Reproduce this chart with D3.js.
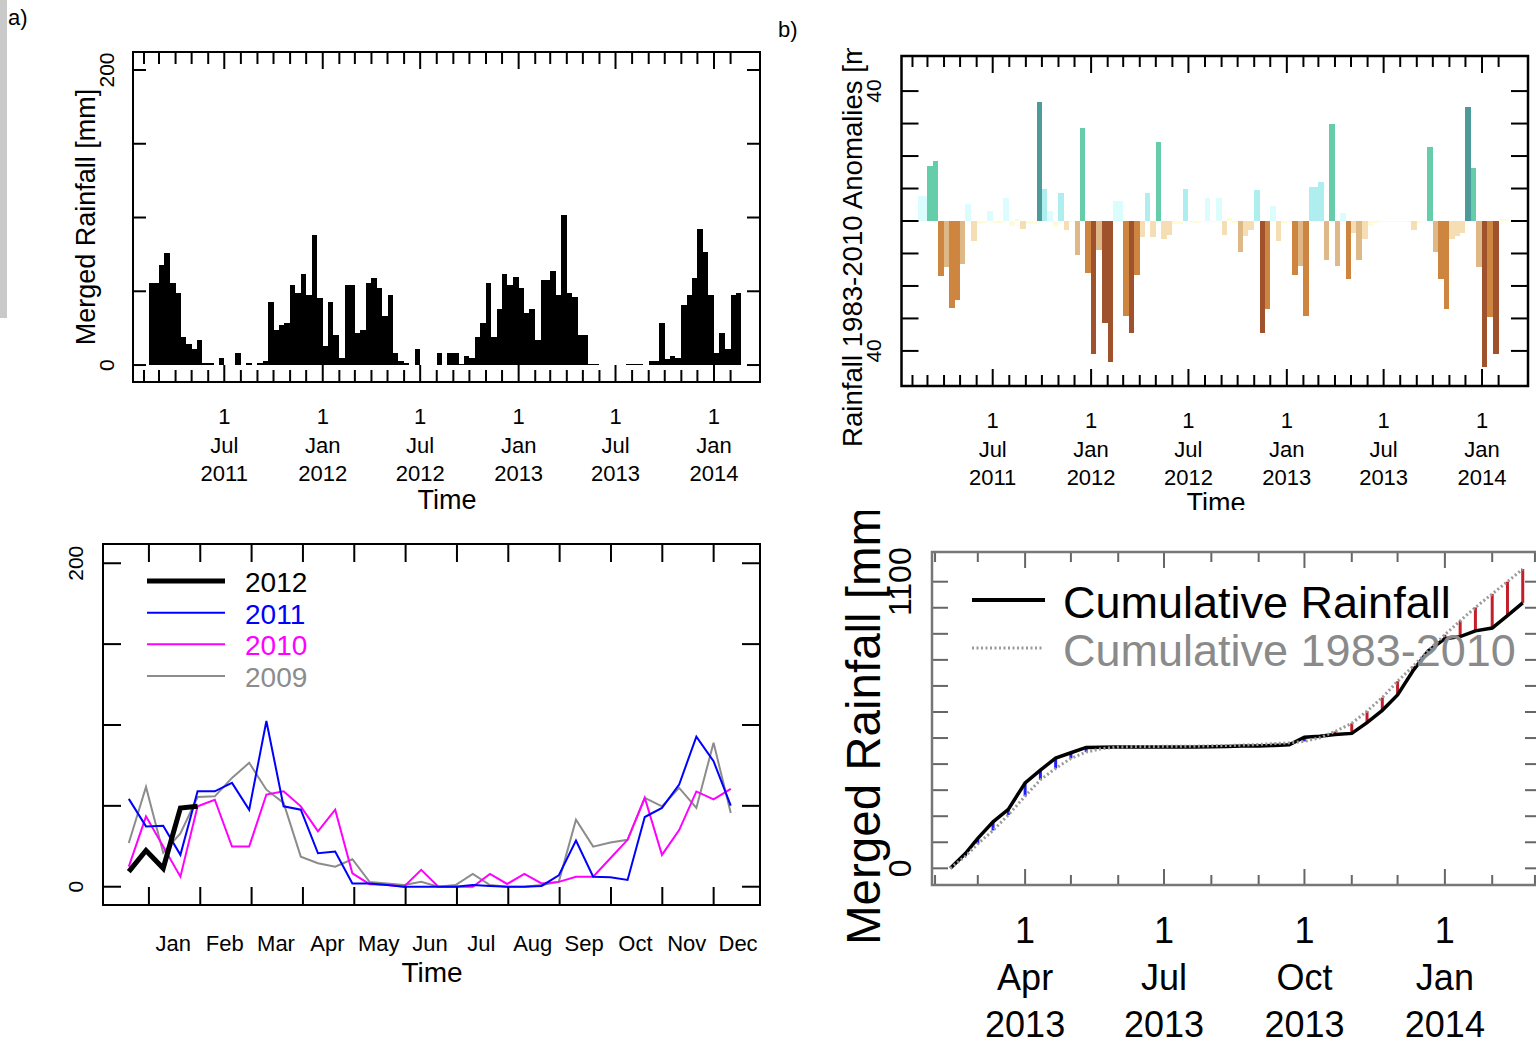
<!DOCTYPE html>
<html>
<head>
<meta charset="utf-8">
<script src="https://cdn.jsdelivr.net/npm/d3@7"></script>
<style>
  body { margin: 0; background: #fff; }
  svg { display: block; }
  text { font-family: "Liberation Sans", Arial, Helvetica, sans-serif; }
</style>
</head>
<body>
<svg id="fig" width="1536" height="1042"></svg>
<script>
// ---- Dekadal merged rainfall [mm], one value per dekad starting 1 Feb 2011 ----
const firstDekad = [2011, 1];   // year, month index of dekad 0
const mergedRain = [
  0, 55.6, 55.6, 68, 76, 55.6, 49, 19, 14, 11,
  17, 1.5, 1.5, 0, 4.5, 0, 0, 8, 0, 1.6,
  0, 1.6, 2.7, 43, 23.6, 27, 28.6, 54, 49, 62,
  47.5, 88, 45.7, 12.8, 43, 20.5, 4.5, 54, 54, 22,
  23.6, 55.6, 58.8, 52.5, 33, 47.5, 8, 3, 1.1, 0,
  11, 0, 0, 0, 8, 0, 8, 8, 1, 6,
  4.5, 19, 28.6, 55.6, 19, 38, 62, 54, 60, 52.5,
  35, 38, 17, 57.4, 57.4, 63.7, 47.5, 102, 49, 46,
  20.5, 20.5, 1, 1, 0, 0, 0, 0, 0, 1,
  1, 1, 0, 2.7, 2.7, 28.6, 4.3, 6, 4.5, 41,
  47.5, 58.8, 92, 76.6, 47.5, 8, 22, 11, 47.5, 49
];

// ---- Dekadal anomalies against the 1983-2010 mean [mm], same dekads ----
const rainAnomaly = [
  0, 7.7, 7.7, 17, 18.5, -16.9, -14.2, -26.7, -24.3, -13.2,
  5.2, -6.2, -0.8, -0.6, 3.2, -0.5, -0.5, 7, -1.5, 0.6,
  -2.6, -1, -1, 36.7, 9.8, 3.2, -2, 8.5, -2.8, -0.3,
  -10.5, 28.7, -16.1, -41, -9, -31.5, -43.5, 6.1, 6.1, -29.4,
  -34.4, -16.7, -4.8, 8.5, -4.8, 24.4, -5.5, -4.3, -1, -1,
  9.8, -0.4, -0.5, -0.4, 7, -0.3, 7, -4.3, 1, -0.5,
  -9.4, -4.7, -2.8, 9.5, -34.6, -27, 4.5, -6.2, -0.5, -0.3,
  -16.7, -14, -29.4, 10.5, 10.5, 12.1, -12, 30, -14, 2.5,
  -18, -3.7, -12, -5.6, -1.5, -0.5, -0.4, -0.3, -0.3, -0.3,
  -0.3, -0.4, -2.7, -0.5, -0.3, 22.9, -9.5, -18, -27, -5.6,
  -4.6, -3.7, 35.2, 16.2, -14.2, -45, -29.5, -41, 0.5, 0.5
];

// ---- Seasonal comparison: 36 dekads per year, Jan..Dec ----
const monthNames = ["Jan","Feb","Mar","Apr","May","Jun","Jul","Aug","Sep","Oct","Nov","Dec"];
const yearLabels = ["2012", "2011", "2010", "2009"];
const rain2012 = [9.3, 22.4, 11.4, 48.7, 49.7];
const rain2011 = [54.3, 37.3, 37.7, 19.7, 59, 59, 64.2, 47.6, 102.5, 49.7, 47.6, 20.7,
                  21.7, 2, 2, 1, 0, 0, 0, 0, 1, 0.5, 0, 0,
                  0.5, 7, 28.6, 6.2, 5.8, 4.2, 43.1, 48.7, 63.2, 92.8, 77.6, 50.1];
const rain2010 = [12.4, 43.5, 24.8, 6.2, 49.7, 53.8, 24.8, 24.8, 57, 59, 49.7, 34.2,
                  47.6, 8.3, 1.6, 1.2, 0, 10.4, 0, 0, 0, 7.9, 1.7, 7.9,
                  2, 3, 6.2, 6.2, 17.6, 29, 55, 19.7, 35, 58.9, 54, 60.5];
const rain2009 = [27, 61.7, 21, 33, 55.5, 55.9, 67.3, 76.6, 60, 51.8, 18.6, 14.5,
                  12.4, 17, 3, 2, 1, 3, 0, 1, 7.9, 1, 0, 0,
                  1, 3, 41.4, 24.8, 27.3, 29, 54.9, 49.7, 61.1, 48.7, 89, 45.6];

// ---- Cumulative season start ----
const seasonStart = new Date(2013, 1, 11);

// ------------------------------------------------------------------
const svg = d3.select("#fig");
const defs = svg.append("defs");

function dekadDate(k) {
  const m = Math.floor(k / 3);
  return new Date(firstDekad[0], firstDekad[1] + m, [1, 11, 21][k % 3]);
}
const dekads = mergedRain.map((r, k) => ({
  k, start: dekadDate(k), end: dekadDate(k + 1), rain: r, anom: rainAnomaly[k]
}));

function frame(g, x0, y0, x1, y1, color, w) {
  g.append("rect").attr("x", x0).attr("y", y0).attr("width", x1 - x0).attr("height", y1 - y0)
    .attr("fill", "none").attr("stroke", color).attr("stroke-width", w);
}
function seg(g, x1, y1, x2, y2, color, w) {
  g.append("line").attr("x1", x1).attr("y1", y1).attr("x2", x2).attr("y2", y2)
    .attr("stroke", color).attr("stroke-width", w);
}
function rotLabel(g, x, y, s, size, anchor) {
  g.append("text").attr("transform", `translate(${x},${y}) rotate(-90)`)
    .attr("text-anchor", anchor || "middle").attr("dominant-baseline", "central")
    .attr("font-size", size).attr("fill", "#000").text(s);
}
const monthShort = d3.timeFormat("%b");

// left edge strip
svg.append("rect").attr("x", 0).attr("y", 0).attr("width", 7).attr("height", 318).attr("fill", "#c9c9c9");

// ===================== a) dekadal rainfall bars =====================
const gA = svg.append("g");
gA.append("text").attr("x", 8).attr("y", 25).attr("font-size", 22).text("a)");
const A = { l: 133, r: 760, t: 52, b: 382 };
const xA = d3.scaleTime().domain([new Date(2011, 0, 11, 11), new Date(2014, 2, 27, 23)]).range([A.l, A.r]);
const yA = d3.scaleLinear().domain([-11.5, 212.2]).range([A.b, A.t]);

gA.selectAll("rect.bar").data(dekads.filter(d => d.rain > 0)).join("rect")
  .attr("class", "bar")
  .attr("x", d => xA(d.start)).attr("width", d => xA(d.end) - xA(d.start))
  .attr("y", d => yA(d.rain)).attr("height", d => yA(0) - yA(d.rain))
  .attr("fill", "#000").attr("shape-rendering", "crispEdges");

const monthTicksA = d3.timeMonth.range(new Date(2011, 1, 1), new Date(2014, 1, 2));
const isMajor = d => d.getMonth() === 0 || d.getMonth() === 6;

function timeAxis(g, x, box, minor, major, labelY, size, lineGap) {
  monthTicksA.forEach(m => {
    const len = isMajor(m) ? major : minor;
    const xx = x(m);
    seg(g, xx, box.b, xx, box.b - len, "#000", 2);
    seg(g, xx, box.t, xx, box.t + len, "#000", 2);
    if (isMajor(m)) {
      const t = g.append("text").attr("text-anchor", "middle").attr("font-size", size);
      t.append("tspan").attr("x", xx).attr("y", labelY).text("1");
      t.append("tspan").attr("x", xx).attr("y", labelY + lineGap).text(monthShort(m));
      t.append("tspan").attr("x", xx).attr("y", labelY + 2 * lineGap).text(m.getFullYear());
    }
  });
}
timeAxis(gA, xA, A, 12, 17, 424, 22, 28.5);
[0, 50, 100, 150, 200].forEach(v => {
  seg(gA, A.l, yA(v), A.l + 13, yA(v), "#000", 2);
  seg(gA, A.r, yA(v), A.r - 13, yA(v), "#000", 2);
});
frame(gA, A.l, A.t, A.r, A.b, "#000", 2);
rotLabel(gA, 106, yA(0), "0", 21);
rotLabel(gA, 106, yA(200), "200", 21);
gA.append("text").attr("transform", `translate(95,217) rotate(-90)`).attr("text-anchor", "middle")
  .attr("font-size", 27).text("Merged Rainfall [mm]");
gA.append("text").attr("x", 447).attr("y", 509).attr("text-anchor", "middle").attr("font-size", 27).text("Time");

// ===================== b) anomaly bars =====================
defs.append("clipPath").attr("id", "clipB").append("rect")
  .attr("x", 770).attr("y", 48).attr("width", 766).attr("height", 462);
const gB = svg.append("g").attr("clip-path", "url(#clipB)");
svg.append("text").attr("x", 778).attr("y", 37).attr("font-size", 22).text("b)");
const B = { l: 901.5, r: 1528, t: 56, b: 386 };
const xB = xA.copy().range([B.l, B.r]);
const yB = d3.scaleLinear().domain([-50.8, 50.8]).range([B.b, B.t]);

function anomColor(v) {
  if (v >= 33) return "#4d9a9a";
  if (v >= 15) return "#66cdaa";
  if (v >= 8) return "#aeeeee";
  if (v >= 2.5) return "#dcfdfd";
  if (v > -2.5) return "#fffbd4";
  if (v > -8) return "#f5deb3";
  if (v > -15) return "#deb887";
  if (v > -30) return "#cd853f";
  return "#a0522d";
}
gB.selectAll("rect.anom").data(dekads.filter(d => d.anom !== 0)).join("rect")
  .attr("class", "anom")
  .attr("x", d => xB(d.start)).attr("width", d => xB(d.end) - xB(d.start))
  .attr("y", d => yB(Math.max(0, d.anom))).attr("height", d => Math.abs(yB(d.anom) - yB(0)))
  .attr("fill", d => anomColor(d.anom)).attr("shape-rendering", "crispEdges");

timeAxis(gB, xB, B, 11, 17, 428, 22, 28.5);
d3.range(-40, 41, 10).forEach(v => {
  seg(gB, B.l, yB(v), B.l + 17, yB(v), "#000", 2);
  seg(gB, B.r, yB(v), B.r - 17, yB(v), "#000", 2);
});
frame(gB, B.l, B.t, B.r, B.b, "#000", 2.5);
rotLabel(gB, 873, yB(40), "40", 21);
rotLabel(gB, 873, yB(-40), "40", 21);
gB.append("text").attr("transform", `translate(862,447) rotate(-90)`).attr("text-anchor", "start")
  .attr("font-size", 27.6).text("Rainfall 1983-2010 Anomalies [mm]");
gB.append("text").attr("x", 1216).attr("y", 512).attr("text-anchor", "middle").attr("font-size", 27).text("Time");

// ===================== c) seasonal comparison lines =====================
const gC = svg.append("g");
const C = { l: 103, r: 760, t: 544, b: 905 };
const xC = d3.scaleLinear().domain([-1.5, 36.7]).range([C.l, C.r]);
const yC = d3.scaleLinear().domain([-11.3, 211.9]).range([C.b, C.t]);
const monthTick = i => 1.17 + i * 2.985;

const seriesC = [
  { label: yearLabels[3], values: rain2009, color: "#8c8c8c", w: 2 },
  { label: yearLabels[2], values: rain2010, color: "#ff00ff", w: 2 },
  { label: yearLabels[1], values: rain2011, color: "#0000ff", w: 2 },
  { label: yearLabels[0], values: rain2012, color: "#000000", w: 5 }
];
const lineC = d3.line().x((d, i) => xC(i)).y(d => yC(d));
seriesC.forEach(s => {
  gC.append("path").attr("d", lineC(s.values)).attr("fill", "none")
    .attr("stroke", s.color).attr("stroke-width", s.w).attr("stroke-linejoin", "miter");
});
monthNames.forEach((m, i) => {
  const xx = xC(monthTick(i));
  seg(gC, xx, C.b, xx, C.b - 18, "#000", 2);
  seg(gC, xx, C.t, xx, C.t + 18, "#000", 2);
  gC.append("text").attr("x", xC(monthTick(i) + 1.42)).attr("y", 951).attr("text-anchor", "middle")
    .attr("font-size", 22).text(m);
});
[0, 50, 100, 150, 200].forEach(v => {
  seg(gC, C.l, yC(v), C.l + 18, yC(v), "#000", 2);
  seg(gC, C.r, yC(v), C.r - 18, yC(v), "#000", 2);
});
frame(gC, C.l, C.t, C.r, C.b, "#000", 2);
rotLabel(gC, 75, yC(0), "0", 21);
rotLabel(gC, 75, yC(200), "200", 21);
gC.append("text").attr("x", 432).attr("y", 982).attr("text-anchor", "middle").attr("font-size", 28).text("Time");
// legend
const legC = seriesC.slice().reverse();
const legY = d3.scalePoint().domain(legC.map(s => s.label)).range([581, 676]);
legC.forEach(s => {
  seg(gC, 147, legY(s.label), 225, legY(s.label), s.color, s.w === 5 ? 5 : 2);
  gC.append("text").attr("x", 245).attr("y", legY(s.label) + 11).attr("font-size", 28)
    .attr("fill", s.color).text(s.label);
});

// ===================== d) cumulative rainfall =====================
const gD = svg.append("g");
const D = { l: 932, r: 1538, t: 552, b: 885 };
const xD = d3.scaleTime().domain([new Date(2013, 0, 30), new Date(2014, 2, 3)]).range([D.l, D.r]);
const yD = d3.scaleLinear().domain([-64, 1214]).range([D.b, D.t]);

const season = dekads.filter(d => d.start >= seasonStart);
const cum = [{ date: season[0].start, obs: 0, clim: 0 }];
season.forEach(d => {
  const prev = cum[cum.length - 1];
  cum.push({ date: d.end, obs: prev.obs + d.rain, clim: prev.clim + (d.rain - d.anom) });
});

// surplus / deficit hatching between the two curves
gD.selectAll("line.hatch").data(cum.slice(1)).join("line")
  .attr("class", "hatch")
  .attr("x1", d => xD(d.date)).attr("x2", d => xD(d.date))
  .attr("y1", d => yD(d.obs)).attr("y2", d => yD(d.clim))
  .attr("stroke", d => d.obs > d.clim ? "#1f1fff" : "#c41e2a").attr("stroke-width", 3);

gD.append("path").attr("d", d3.line().x(d => xD(d.date)).y(d => yD(d.obs))(cum))
  .attr("fill", "none").attr("stroke", "#000").attr("stroke-width", 3.5);
gD.append("path").attr("d", d3.line().x(d => xD(d.date)).y(d => yD(d.clim))(cum))
  .attr("fill", "none").attr("stroke", "#9a9a9a").attr("stroke-width", 3).attr("stroke-dasharray", "2 2.5");

const monthsD = d3.timeMonth.range(new Date(2013, 1, 1), new Date(2014, 2, 2));
const quarterMajor = d => d.getMonth() % 3 === 0;
monthsD.forEach(m => {
  const xx = xD(m);
  if (xx <= D.l + 3) return;
  const len = quarterMajor(m) ? 16 : 10;
  seg(gD, xx, D.b, xx, D.b - len, "#666", 2);
  seg(gD, xx, D.t, xx, D.t + len, "#666", 2);
  if (quarterMajor(m)) {
    const t = gD.append("text").attr("text-anchor", "middle").attr("font-size", 36);
    t.append("tspan").attr("x", xx).attr("y", 943).text("1");
    t.append("tspan").attr("x", xx).attr("y", 990).text(monthShort(m));
    t.append("tspan").attr("x", xx).attr("y", 1037).text(m.getFullYear());
  }
});
d3.range(0, 1101, 100).forEach(v => {
  seg(gD, D.l, yD(v), D.l + 16, yD(v), "#666", 2);
  seg(gD, 1536, yD(v), 1525, yD(v), "#666", 2);
});
frame(gD, D.l, D.t, D.r, D.b, "#777", 2.5);
rotLabel(gD, 900, yD(0), "0", 32);
rotLabel(gD, 900, yD(1100), "1100", 32);
defs.append("clipPath").attr("id", "clipD").append("rect")
  .attr("x", 800).attr("y", 511).attr("width", 130).attr("height", 531);
gD.append("g").attr("clip-path", "url(#clipD)")
  .append("text")
  .attr("transform", `translate(880,945) rotate(-90)`).attr("text-anchor", "start")
  .attr("font-size", 47.5).text("Merged Rainfall [mm]");
// legend
seg(gD, 972, 600, 1045, 600, "#000", 4);
gD.append("line").attr("x1", 972).attr("y1", 648).attr("x2", 1043).attr("y2", 648)
  .attr("stroke", "#9a9a9a").attr("stroke-width", 3).attr("stroke-dasharray", "2 2.5");
gD.append("text").attr("x", 1063).attr("y", 618).attr("font-size", 45).attr("fill", "#000").text("Cumulative Rainfall");
gD.append("text").attr("x", 1063).attr("y", 666).attr("font-size", 45).attr("fill", "#8a8a8a").text("Cumulative 1983-2010");
</script>
</body>
</html>
